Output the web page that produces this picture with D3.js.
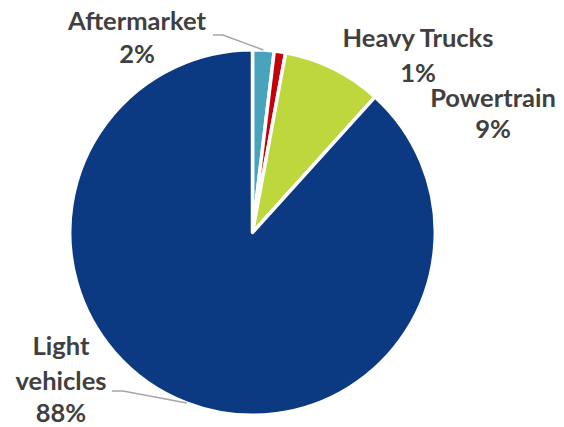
<!DOCTYPE html>
<html>
<head>
<meta charset="utf-8">
<script src="https://cdn.jsdelivr.net/npm/d3@7/dist/d3.min.js"></script>
<style>
  html, body { margin: 0; padding: 0; background: #ffffff; }
  svg { display: block; }
</style>
</head>
<body>
<svg id="chart" width="564" height="427"></svg>
<script>
// ---- data ----
const categories = ["Aftermarket", "Heavy Trucks", "Powertrain", "Light vehicles"];
const shares = [1.9, 1.0, 8.8, 88.3];
const colors = ["#4aa3bd", "#c4000b", "#bdd73c", "#0b3a82"];
const labelLines = [["Aftermarket"], ["Heavy Trucks"], ["Powertrain"], ["Light", "vehicles"]];

// ---- layout ----
const W = 564, H = 427;
const cx = 252.5, cy = 232.5, R = 182.8;
const labelLayout = [
  { x: 137, y: [30, 63], leader: [[213, 35], [223, 35]] },
  { x: 418, y: [47, 82], leader: null },
  { x: 493, y: [107, 138], leader: null },
  { x: 61,  y: [355, 390, 422], leader: [[112, 391], [123, 391]] }
];

const svg = d3.select("#chart");
const g = svg.append("g").attr("transform", `translate(${cx},${cy})`);

const pie = d3.pie().sort(null).value(d => d)(shares);
const arc = d3.arc().innerRadius(0).outerRadius(R);

g.selectAll("path.slice")
  .data(pie)
  .join("path")
  .attr("class", "slice")
  .attr("d", arc)
  .attr("fill", (d, i) => colors[i])
  .attr("stroke", "#ffffff")
  .attr("stroke-width", 3.5)
  .attr("stroke-linejoin", "round");

const fmt = v => Math.round(v) + "%";

// leader lines
pie.forEach((d, i) => {
  const L = labelLayout[i];
  if (!L.leader) return;
  const mid = (d.startAngle + d.endAngle) / 2;
  const px = cx + R * Math.sin(mid);
  const py = cy - R * Math.cos(mid);
  const pts = L.leader.concat([[px, py]]);
  svg.append("path")
    .attr("d", d3.line()(pts))
    .attr("fill", "none")
    .attr("stroke", "#a6a6a6")
    .attr("stroke-width", 1.5);
});

// labels
pie.forEach((d, i) => {
  const L = labelLayout[i];
  const lines = labelLines[i].concat([fmt(shares[i])]);
  const t = svg.append("text")
    .attr("text-anchor", "middle")
    .attr("font-family", "Lato, 'Open Sans', sans-serif")
    .attr("font-weight", "bold")
    .attr("font-size", 25.5)
    .attr("fill", "#404040");
  lines.forEach((s, k) => {
    t.append("tspan").attr("x", L.x).attr("y", L.y[k]).text(s);
  });
});
</script>
</body>
</html>
